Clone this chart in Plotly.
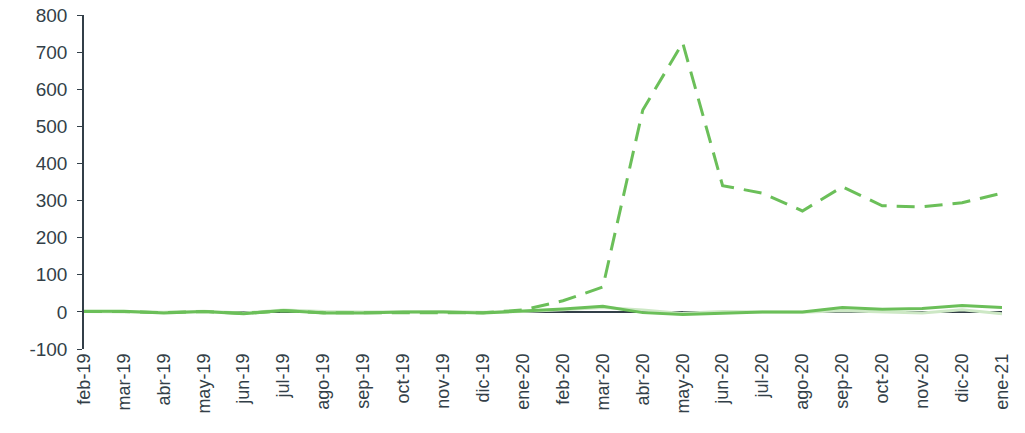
import plotly.graph_objects as go

months = ["feb-19","mar-19","abr-19","may-19","jun-19","jul-19","ago-19","sep-19","oct-19","nov-19","dic-19",
          "ene-20","feb-20","mar-20","abr-20","may-20","jun-20","jul-20","ago-20","sep-20","oct-20","nov-20","dic-20","ene-21"]

dashed_vals = [1, 1, -2, 1, -4, 3, -2, -2, 0, 0, -2,
               5, 30, 67, 544, 725, 340, 320, 272, 337, 286, 283, 294, 320]
solid_vals = [2, 2, -3, 1, -5, 4, -3, -3, 0, 0, -3,
              2, 8, 15, -2, -7, -3, 0, 0, 12, 7, 9, 17, 12]
light_vals = [1, 1, -1, 2, -3, 5, 1, 0, 1, 1, -1,
              1, 6, 12, 5, -4, 1, 0, -1, 3, 1, -3, 6, -5]

y_ticks = [-100, 0, 100, 200, 300, 400, 500, 600, 700, 800]
y_tick_text = ["-100", "0", "100", "200", "300", "400", "500", "600", "700", "800"]

GREEN = "#6bbf59"
LIGHT = "#cde8c5"
TEXT = "#333f48"

fig = go.Figure()
fig.add_trace(go.Scatter(x=months, y=light_vals, mode="lines",
                         line=dict(color=LIGHT, width=3), showlegend=False))
fig.add_trace(go.Scatter(x=months, y=solid_vals, mode="lines",
                         line=dict(color=GREEN, width=3), showlegend=False))
fig.add_trace(go.Scatter(x=months, y=dashed_vals, mode="lines",
                         line=dict(color=GREEN, width=3, dash="18px,10px"), showlegend=False))

fig.update_layout(
    width=1025, height=433,
    margin=dict(l=84, r=23, t=15, b=84, autoexpand=False),
    plot_bgcolor="white", paper_bgcolor="white",
    font=dict(family="Liberation Sans, Arial, sans-serif", size=18, color=TEXT),
)
fig.update_xaxes(
    type="category", range=[0, 23], showgrid=False, showline=False,
    tickangle=-90, ticks="", tickfont=dict(size=18, color=TEXT), automargin=False,
)
fig.update_yaxes(
    range=[-100, 800], tickvals=y_ticks, ticktext=y_tick_text, showgrid=False,
    showline=True, linecolor=TEXT, linewidth=1.5,
    ticks="outside", ticklen=5, tickcolor=TEXT,
    zeroline=True, zerolinecolor=TEXT, zerolinewidth=1.5,
    tickfont=dict(size=19, color=TEXT), automargin=False,
    ticklabelstandoff=6,
)

fig.write_html("out.html",
               config={"displayModeBar": False},
               post_script="document.body.style.margin='0';document.body.style.overflow='hidden';")
